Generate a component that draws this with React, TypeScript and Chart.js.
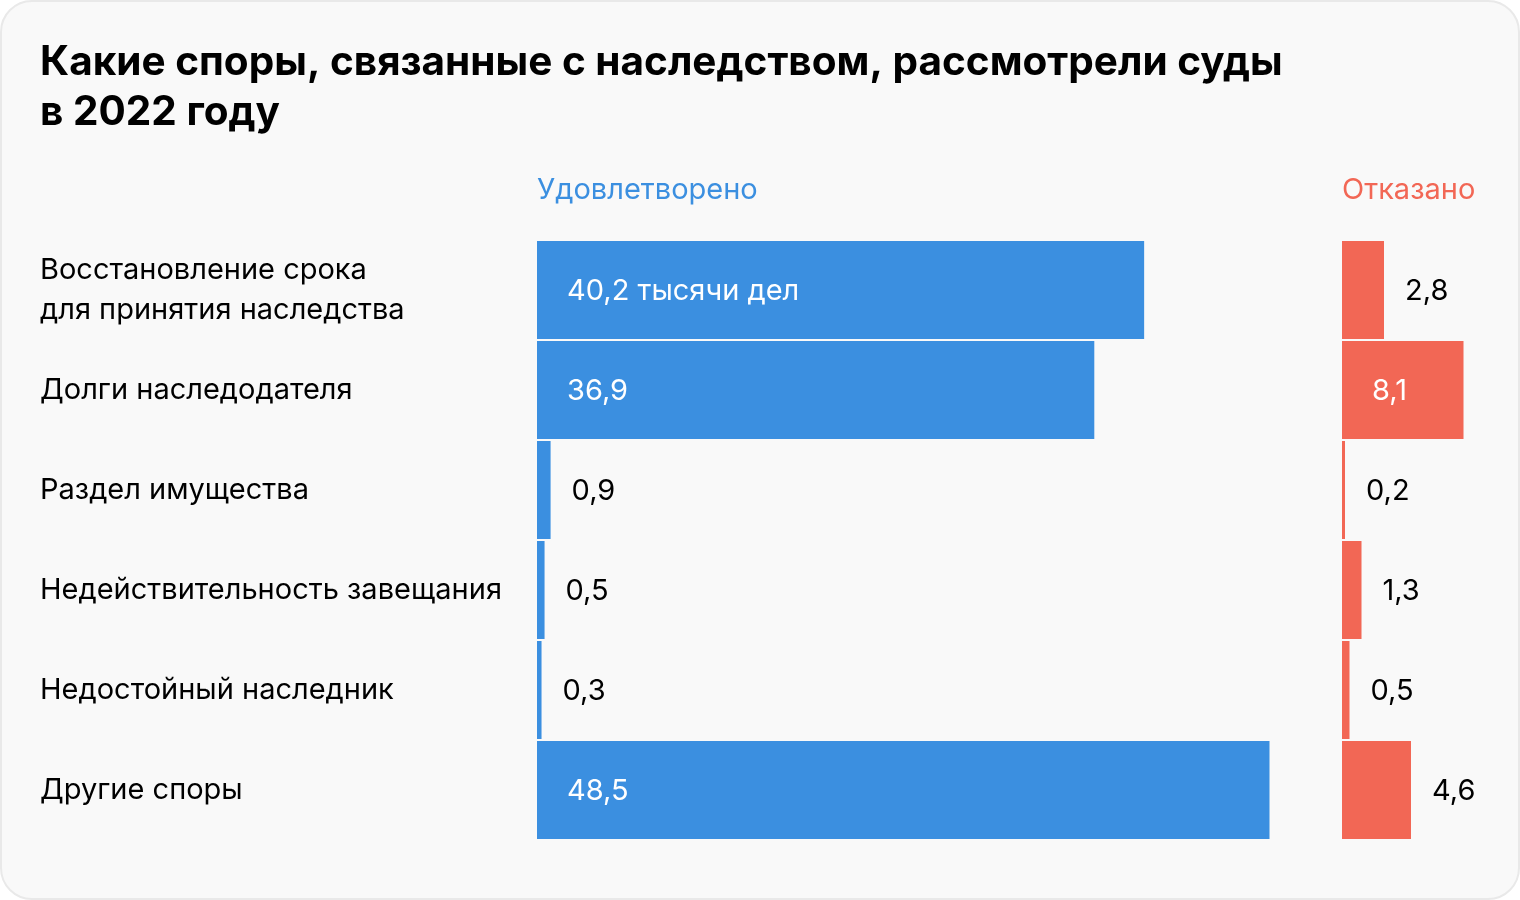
import React, { useEffect, useRef } from "react";
import { Chart, registerables } from "chart.js";

Chart.register(...registerables);

const titleLines = [
  "Какие споры, связанные с наследством, рассмотрели суды",
  "в 2022 году",
];
const categories: (string | string[])[] = [
  ["Восстановление срока", "для принятия наследства"],
  "Долги наследодателя",
  "Раздел имущества",
  "Недействительность завещания",
  "Недостойный наследник",
  "Другие споры",
];
const seriesNames = ["Удовлетворено", "Отказано"];
const granted = [40.2, 36.9, 0.9, 0.5, 0.3, 48.5];
const refused = [2.8, 8.1, 0.2, 1.3, 0.5, 4.6];
const firstLabelSuffix = " тысячи дел";

const BLUE = "#3b8fe0";
const RED = "#f26755";
const FONT = "Inter, 'Noto Sans', sans-serif";

const valueLabels = {
  id: "valueLabels",
  afterDatasetsDraw(chart: any) {
    const ctx = chart.ctx;
    ctx.save();
    ctx.font = `400 29px ${FONT}`;
    ctx.textBaseline = "middle";
    ctx.textAlign = "left";
    chart.data.datasets.forEach((ds: any, di: number) => {
      const meta = chart.getDatasetMeta(di);
      meta.data.forEach((bar: any, i: number) => {
        const v = ds.data[i] as number;
        let txt = v.toFixed(1).replace(".", ",");
        if (di === 0 && i === 0) txt += firstLabelSuffix;
        const { x, y, base } = bar.getProps(["x", "y", "base"], true);
        const w = ctx.measureText(txt).width;
        const inside = base + 30 + w + 30 <= x;
        ctx.fillStyle = inside ? "#ffffff" : "#000000";
        ctx.fillText(txt, inside ? base + 30 : x + 21, y + 1);
      });
    });
    ctx.restore();
  },
};

const hiddenAxis = {
  grid: { display: false, drawTicks: false },
  border: { display: false },
  ticks: { display: false },
};

export default function App() {
  const ref = useRef<HTMLCanvasElement | null>(null);

  useEffect(() => {
    if (!ref.current) return;
    const chart = new Chart(ref.current, {
      type: "bar",
      data: {
        labels: categories,
        datasets: [
          {
            label: seriesNames[0],
            data: granted,
            xAxisID: "x",
            backgroundColor: BLUE,
            borderWidth: 0,
            grouped: false,
            categoryPercentage: 0.98,
            barPercentage: 1,
          } as any,
          {
            label: seriesNames[1],
            data: refused,
            xAxisID: "x2",
            backgroundColor: RED,
            borderWidth: 0,
            grouped: false,
            categoryPercentage: 0.98,
            barPercentage: 1,
          } as any,
        ],
      },
      options: {
        indexAxis: "y",
        responsive: false,
        animation: false,
        layout: { padding: { top: 0, left: 40, right: 16, bottom: 60 } },
        plugins: {
          legend: { display: false },
          tooltip: { enabled: false },
          title: {
            display: true,
            text: titleLines,
            align: "start",
            color: "#000",
            font: { family: FONT, size: 40.5, weight: "700", lineHeight: 50 / 40.5 },
            padding: { top: 38, bottom: 0 },
          },
        },
        scales: {
          x: {
            ...hiddenAxis,
            position: "top",
            stack: "cols",
            stackWeight: 805,
            weight: 1,
            min: 0,
            max: 53.3,
            title: {
              display: true,
              text: seriesNames[0],
              align: "start",
              color: BLUE,
              font: { family: FONT, size: 29, lineHeight: 1.2 },
              padding: { top: 35, bottom: 32.2 },
            },
          },
          x2: {
            ...hiddenAxis,
            position: "top",
            stack: "cols",
            stackWeight: 162,
            weight: 0,
            min: 0,
            max: 10.8,
            title: {
              display: true,
              text: seriesNames[1],
              align: "start",
              color: RED,
              font: { family: FONT, size: 29, lineHeight: 1.2 },
              padding: { top: 35, bottom: 32.2 },
            },
          },
          y: {
            type: "category",
            grid: { display: false, drawTicks: false },
            border: { display: false },
            ticks: {
              autoSkip: false,
              crossAlign: "far",
              color: "#000",
              padding: 0,
              font: { family: FONT, size: 29, lineHeight: 40 / 29 },
            },
            afterFit: (s: any) => {
              s.width = 497;
            },
          },
        },
      } as any,
      plugins: [valueLabels],
    });
    return () => chart.destroy();
  }, []);

  return (
    <div
      style={{
        position: "absolute",
        left: 0,
        top: 0,
        width: 1520,
        height: 900,
        boxSizing: "border-box",
        border: "2px solid #e9e9e9",
        borderRadius: 32,
        background: "#f9f9f9",
        overflow: "hidden",
      }}
    >
      <canvas
        ref={ref}
        width={1520}
        height={900}
        style={{ position: "absolute", left: -2, top: -2, width: 1520, height: 900 }}
      />
    </div>
  );
}
